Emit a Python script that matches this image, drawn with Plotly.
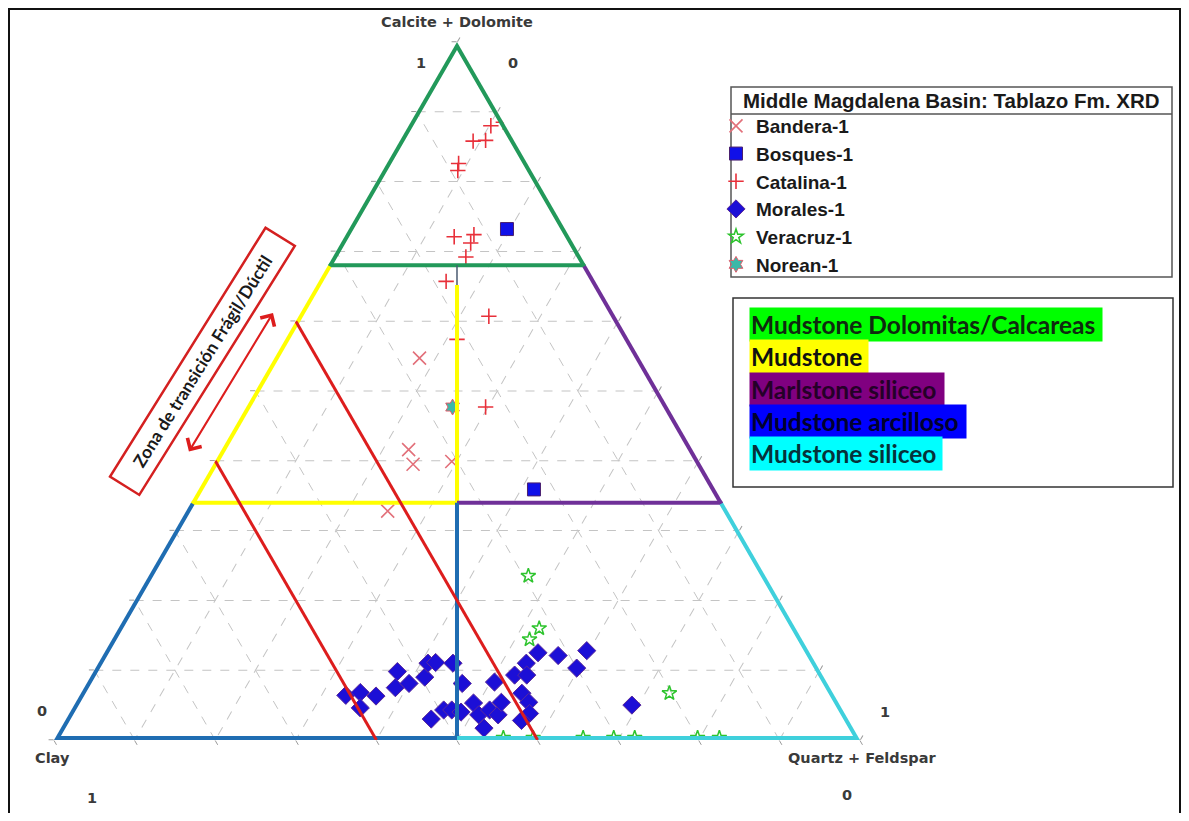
import plotly.graph_objects as go

W, H = 1189, 821
OFF = 8                      # browser body margin
FW, FH = W - 2 * OFF, H - 2 * OFF

# ternary components: calc = Calcite + Dolomite (top), clay = Clay (left), qf = Quartz + Feldspar (right)
bandera_calc = [0.547, 0.416, 0.395, 0.399, 0.328]
bandera_clay = [0.273, 0.352, 0.357, 0.307, 0.422]
bandera_qf = [0.180, 0.232, 0.248, 0.294, 0.250]

bosques_calc = [0.732, 0.359]
bosques_clay = [0.072, 0.225]
bosques_qf = [0.196, 0.416]

catalina_calc = [0.885, 0.880, 0.859, 0.858, 0.826, 0.816, 0.721, 0.724, 0.712, 0.692, 0.657, 0.607, 0.574, 0.477]
catalina_clay = [0.000, 0.018, 0.035, 0.051, 0.085, 0.091, 0.143, 0.117, 0.127, 0.143, 0.185, 0.157, 0.213, 0.226]
catalina_qf = [0.115, 0.102, 0.106, 0.091, 0.089, 0.093, 0.136, 0.159, 0.161, 0.165, 0.158, 0.236, 0.213, 0.297]

morales_calc = [0.064, 0.068, 0.063, 0.046, 0.098, 0.075, 0.081, 0.090, 0.110, 0.111, 0.110, 0.030, 0.043, 0.043,
                0.081, 0.040, 0.053, 0.036, 0.017, 0.043, 0.036, 0.054, 0.083, 0.093, 0.067, 0.110, 0.093, 0.054,
                0.038, 0.028, 0.125, 0.121, 0.128, 0.103, 0.050]
morales_clay = [0.606, 0.586, 0.569, 0.597, 0.525, 0.539, 0.519, 0.495, 0.481, 0.471, 0.450, 0.517, 0.495, 0.485,
                0.453, 0.475, 0.453, 0.455, 0.458, 0.438, 0.431, 0.418, 0.412, 0.382, 0.386, 0.359, 0.367, 0.384,
                0.391, 0.406, 0.337, 0.314, 0.275, 0.300, 0.258]
morales_qf = [0.330, 0.346, 0.368, 0.357, 0.377, 0.386, 0.400, 0.415, 0.409, 0.418, 0.440, 0.453, 0.462, 0.472,
              0.466, 0.485, 0.494, 0.509, 0.525, 0.519, 0.533, 0.528, 0.505, 0.525, 0.547, 0.531, 0.540, 0.562,
              0.571, 0.566, 0.538, 0.565, 0.597, 0.597, 0.692]

veracruz_calc = [0.235, 0.160, 0.144, 0.067, 0.003, 0.003, 0.003, 0.003, 0.003, 0.003, 0.003]
veracruz_clay = [0.294, 0.318, 0.338, 0.203, 0.441, 0.404, 0.342, 0.304, 0.278, 0.200, 0.173]
veracruz_qf = [0.471, 0.522, 0.518, 0.730, 0.556, 0.593, 0.655, 0.693, 0.719, 0.797, 0.824]

norean_calc = [0.477]
norean_clay = [0.267]
norean_qf = [0.256]

# zone limits (calcite fraction) and brittle/ductile clay limits
calc_hi = 0.68
calc_lo = 0.34
clay_limits = [0.4, 0.6]

zone_names = ["Mudstone Dolomitas/Calcareas", "Mudstone", "Marlstone siliceo",
              "Mudstone arcilloso", "Mudstone siliceo"]
zone_colors = ["#00ff00", "#ffff00", "#800080", "#0000ff", "#00ffff"]


def P(x, y):
    # reference pixel -> paper fraction
    return (x - OFF) / FW, 1 - (y - OFF) / FH


fig = go.Figure()

series = [
    ("Bandera-1", bandera_calc, bandera_clay, bandera_qf,
     dict(symbol="x-thin", size=13, color="#e2707a", line=dict(color="#e2707a", width=1.6))),
    ("Bosques-1", bosques_calc, bosques_clay, bosques_qf,
     dict(symbol="square", size=13, color="#1010e8", line=dict(color="#4a2070", width=1))),
    ("Catalina-1", catalina_calc, catalina_clay, catalina_qf,
     dict(symbol="cross-thin", size=11, color="#e8303a", line=dict(color="#e8303a", width=1.6))),
    ("Morales-1", morales_calc, morales_clay, morales_qf,
     dict(symbol="diamond", size=14, color="#1c0fd6", line=dict(color="#5a2a9a", width=1))),
    ("Veracruz-1", veracruz_calc, veracruz_clay, veracruz_qf,
     dict(symbol="star-open", size=11, color="#2ec42e", line=dict(color="#2ec42e", width=1.5))),
    ("Norean-1", norean_calc, norean_clay, norean_qf,
     dict(symbol="hexagram", size=12, color="#3cb8a8", line=dict(color="#e05a6a", width=1))),
]
for name, a, b, c, mk in series:
    fig.add_trace(go.Scatterternary(a=a, b=b, c=c, mode="markers", name=name, marker=mk,
                                    hoverinfo="skip"))


def seg(a, b, c, color, width):
    fig.add_trace(go.Scatterternary(a=a, b=b, c=c, mode="lines", showlegend=False, hoverinfo="skip",
                                    line=dict(color=color, width=width)))


mid_b = (1 - calc_lo) / 2
top_b = (1 - 0.652) / 2
hi_b = (1 - calc_hi) / 2
EDGE = 8   # half of it is clipped by the triangle
INNER = 4
green, yellow, purple, blue, cyan = "#22995a", "#ffff00", "#6f3098", "#1f6db2", "#3fd0dc"

# green zone
seg([calc_hi, 1, calc_hi], [1 - calc_hi, 0, 0], [0, 0, 1 - calc_hi], green, EDGE)
seg([calc_hi, calc_hi], [1 - calc_hi, 0], [0, 1 - calc_hi], green, INNER)
# yellow zone
seg([calc_hi, calc_lo], [1 - calc_hi, 1 - calc_lo], [0, 0], yellow, EDGE)
seg([calc_lo, calc_lo, 0.652], [1 - calc_lo, mid_b, top_b], [0, mid_b, top_b], yellow, INNER)
seg([0.652, calc_hi], [top_b, hi_b], [top_b, hi_b], "#4a5a70", 1.5)
# purple zone
seg([calc_hi, calc_lo], [0, 0], [1 - calc_hi, 1 - calc_lo], purple, EDGE)
seg([calc_lo, calc_lo], [0, mid_b], [1 - calc_lo, mid_b], purple, INNER)
# blue zone
seg([calc_lo, 0, 0], [1 - calc_lo, 1, 0.5], [0, 0, 0.5], blue, EDGE)
seg([0, calc_lo], [0.5, mid_b], [0.5, mid_b], blue, INNER)
# cyan zone
seg([calc_lo, 0, 0], [0, 0, 0.5], [1 - calc_lo, 1, 0.5], cyan, EDGE)
# brittle / ductile limits (constant clay)
for cl in clay_limits:
    seg([1 - cl, 0], [cl, cl], [0, 1 - cl], "#dd1d1d", 3)

axis_style = dict(showline=False, showgrid=True, gridcolor="#c4c4c4", griddash="dash", gridwidth=1,
                  tick0=0, dtick=0.1, ticks="outside", ticklen=5, tickcolor="#9a9a9a",
                  showticklabels=False, title=dict(text=""))

x0, y0 = P(54, 740)
x1, y1 = P(860, 42)
leg_x, leg_y = P(716, 107)
fig.update_layout(
    width=FW, height=FH,
    margin=dict(l=0, r=0, t=0, b=0),
    paper_bgcolor="white",
    ternary=dict(sum=1, bgcolor="white", domain=dict(x=[x0, x1], y=[y0, y1]),
                 aaxis=axis_style, baxis=axis_style, caxis=axis_style),
    legend=dict(x=leg_x, y=leg_y, xanchor="left", yanchor="top",
                bgcolor="rgba(0,0,0,0)", borderwidth=0,
                font=dict(family="Liberation Sans, Arial", size=19, color="#1a1a1a", weight="bold"),
                tracegroupgap=0),
)

# legend frame, title and separator
lx0, ly0 = P(731, 277)
lx1, ly1 = P(1172, 87)
fig.add_shape(type="rect", xref="paper", yref="paper", x0=lx0, y0=ly0, x1=lx1, y1=ly1,
              line=dict(color="#555555", width=1.5))
sx0, sy = P(731, 114)
sx1, _ = P(1172, 114)
fig.add_shape(type="line", xref="paper", yref="paper", x0=sx0, x1=sx1, y0=sy, y1=sy,
              line=dict(color="#555555", width=1.5))
tx, ty = P(741, 101)
fig.add_annotation(text="<b>Middle Magdalena Basin: Tablazo Fm. XRD</b>", x=tx, y=ty,
                   xref="paper", yref="paper", showarrow=False, xanchor="left", yanchor="middle",
                   font=dict(family="Liberation Sans, Arial", size=20.5, color="#1a1a1a"))

# axis end labels
lab_font = dict(family="DejaVu Sans", size=14.5, color="#3a3a3a")
labels = [("<b>Calcite + Dolomite</b>", 457, 22), ("<b>1</b>", 421, 63), ("<b>0</b>", 513, 63),
          ("<b>0</b>", 42, 711), ("<b>Clay</b>", 52, 758), ("<b>1</b>", 92, 798),
          ("<b>1</b>", 885, 712), ("<b>Quartz + Feldspar</b>", 862, 758), ("<b>0</b>", 847, 795)]
for txt, px, py in labels:
    ax_, ay_ = P(px, py)
    fig.add_annotation(text=txt, x=ax_, y=ay_, xref="paper", yref="paper", showarrow=False,
                       xanchor="center", yanchor="middle", font=lab_font)

# zone key box
zone_widths = [350, 116, 192, 214, 190]
zone_text = ["#0f2a0f", "#111111", "#250028", "#00002e", "#06323a"]
ky = 324
for name, col, wd, tc in zip(zone_names, zone_colors, zone_widths, zone_text):
    ax_, ay_ = P(749, ky)
    fig.add_annotation(text="<b>" + name + "</b>", x=ax_, y=ay_, xref="paper", yref="paper",
                       showarrow=False, xanchor="left", yanchor="middle", align="left",
                       width=wd, height=31, bgcolor=col, borderpad=1,
                       font=dict(family="Lato", size=24.5, color=tc))
    ky += 32.5

bx0, by0 = P(733, 298)
bx1, by1 = P(1173, 487)
fig.add_shape(type="rect", xref="paper", yref="paper", x0=bx0, y0=by0, x1=bx1, y1=by1,
              line=dict(color="#333333", width=1.5))

# outer frame
fx0, fy1 = P(9, 9)
fx1, fy0 = P(1180, 840)
fig.add_shape(type="rect", xref="paper", yref="paper", x0=fx0, y0=fy0, x1=fx1, y1=fy1,
              line=dict(color="#111111", width=2))

# brittle/ductile transition note
tx, ty = P(202, 361)
fig.add_annotation(text="<b>Zona de transición Frágil/Dúctil</b>", x=tx, y=ty, xref="paper", yref="paper",
                   showarrow=False, xanchor="center", yanchor="middle", textangle=-58,
                   width=285, height=26, borderpad=3,
                   bordercolor="#d42020", borderwidth=2.5, bgcolor="white",
                   font=dict(family="Lato", size=17.5, color="#1a1a1a"))
hx, hy = P(273, 313)
fig.add_annotation(text="", x=hx, y=hy, xref="paper", yref="paper", showarrow=True,
                   ax=188 - 273, ay=453 - 313, arrowside="end+start", arrowhead=4, startarrowhead=4,
                   arrowsize=1.6, startarrowsize=1.6, arrowwidth=2, arrowcolor="#dd1d1d")

fig.write_html("out.html")
